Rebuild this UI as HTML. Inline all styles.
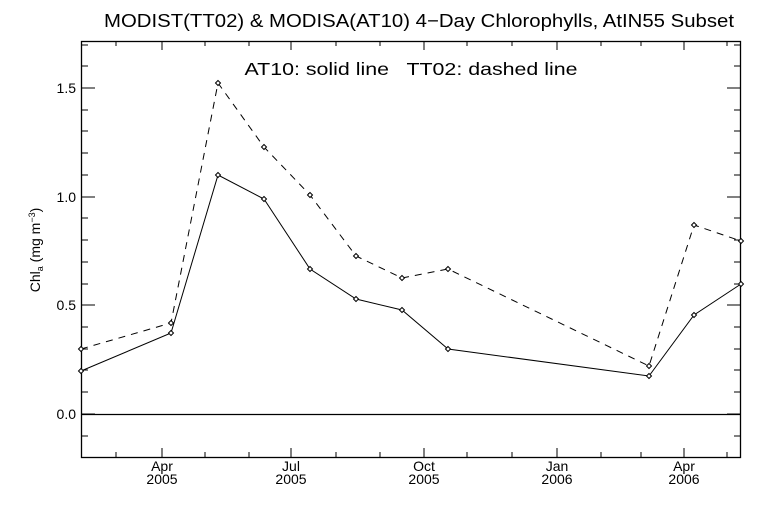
<!DOCTYPE html>
<html><head><meta charset="utf-8"><style>body{margin:0;background:#fff}svg{display:block}text{font-family:"Liberation Sans","DejaVu Sans",sans-serif;fill:#000}</style></head><body>
<svg width="768" height="512" xmlns="http://www.w3.org/2000/svg">
<defs><path id="d" d="M0,-2.5L2.5,0L0,2.5L-2.5,0Z" fill="#fff" stroke="#000" stroke-width="1"/></defs>
<text x="419" y="27" font-size="18.5" text-anchor="middle" textLength="630" lengthAdjust="spacingAndGlyphs">MODIST(TT02) &amp; MODISA(AT10) 4−Day Chlorophylls, AtIN55 Subset</text>
<rect x="81.5" y="41.5" width="659" height="416" fill="none" stroke="#000" stroke-width="1.3"/>
<g stroke="#000" stroke-width="1">
<path d="M81,414h14M81,305h14M81,197h14M81,88h14M741,414h-14M741,305h-14M741,197h-14M741,88h-14"/>
<path d="M81,436h7M81,392h7M81,370h7M81,349h7M81,327h7M81,284h7M81,262h7M81,240h7M81,218h7M81,175h7M81,153h7M81,131h7M81,110h7M81,66h7M81,45h7
M741,436h-7M741,392h-7M741,370h-7M741,349h-7M741,327h-7M741,284h-7M741,262h-7M741,240h-7M741,218h-7M741,175h-7M741,153h-7M741,131h-7M741,110h-7M741,66h-7M741,45h-7"/>
<path d="M162,457v-9M291,457v-9M424,457v-9M557,457v-9M684,457v-9M162,41v9M291,41v9M424,41v9M557,41v9M684,41v9"/>
<path d="M116,457v-5M205,457v-5M249,457v-5M336,457v-5M380,457v-5M467,457v-5M512,457v-5M601,457v-5M641,457v-5M727,457v-5
M116,41v5M205,41v5M249,41v5M336,41v5M380,41v5M467,41v5M512,41v5M601,41v5M641,41v5M727,41v5"/>
<path d="M81,414.5H741" stroke-width="1.3"/>
</g>
<g font-size="14" text-anchor="end">
<text x="76" y="419">0.0</text><text x="76" y="310">0.5</text><text x="76" y="202">1.0</text><text x="76" y="93">1.5</text>
</g>
<g font-size="14" text-anchor="middle">
<text x="162" y="471">Apr</text><text x="162" y="484">2005</text>
<text x="291" y="471">Jul</text><text x="291" y="484">2005</text>
<text x="424" y="471">Oct</text><text x="424" y="484">2005</text>
<text x="557" y="471">Jan</text><text x="557" y="484">2006</text>
<text x="684" y="471">Apr</text><text x="684" y="484">2006</text>
</g>
<text transform="translate(40,250) rotate(-90)" font-size="14" text-anchor="middle">Chl<tspan font-size="9" dy="3">a</tspan><tspan dy="-3"> (mg m</tspan><tspan font-size="9" dy="-5">−3</tspan><tspan dy="5">)</tspan></text>
<text x="411" y="75" font-size="17.5" text-anchor="middle" xml:space="preserve" textLength="333" lengthAdjust="spacingAndGlyphs">AT10: solid line   TT02: dashed line</text>
<polyline fill="none" stroke="#000" stroke-width="1" points="81,371 171,333 218,175 264,199 310,269 356,299 402,310 448,349 649,376 694,315 741,284"/>
<polyline fill="none" stroke="#000" stroke-width="1" stroke-dasharray="7,6" points="81,349 171,323 218,83 264,147 310,195 356,256 402,278 448,269 649,366 694,225 741,241"/>
<g>
<use href="#d" x="81" y="371"/><use href="#d" x="171" y="333"/><use href="#d" x="218" y="175"/><use href="#d" x="264" y="199"/><use href="#d" x="310" y="269"/><use href="#d" x="356" y="299"/><use href="#d" x="402" y="310"/><use href="#d" x="448" y="349"/><use href="#d" x="649" y="376"/><use href="#d" x="694" y="315"/><use href="#d" x="741" y="284"/>
<use href="#d" x="81" y="349"/><use href="#d" x="171" y="323"/><use href="#d" x="218" y="83"/><use href="#d" x="264" y="147"/><use href="#d" x="310" y="195"/><use href="#d" x="356" y="256"/><use href="#d" x="402" y="278"/><use href="#d" x="448" y="269"/><use href="#d" x="649" y="366"/><use href="#d" x="694" y="225"/><use href="#d" x="741" y="241"/>
</g>
</svg>
</body></html>
